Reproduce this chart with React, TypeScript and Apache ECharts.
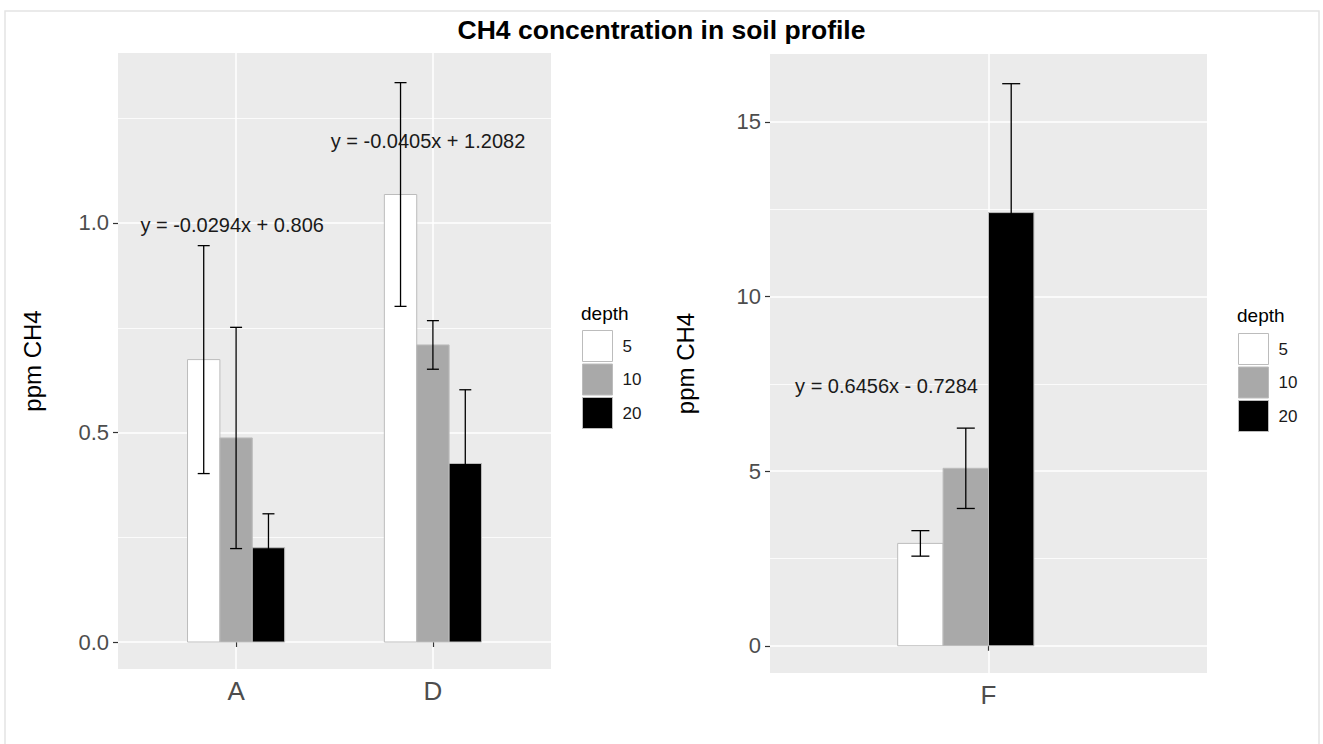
import React, { useEffect, useRef } from 'react';
import * as echarts from 'echarts';

// ---- labels ----
const TITLE = 'CH4 concentration in soil profile';
const Y_NAME = 'ppm CH4';
const LEGEND_TITLE = 'depth';
const DEPTHS = ['5', '10', '20'];
const DEPTH_FILLS = ['#ffffff', '#a9a9a9', '#000000'];

// ---- left panel: sites A and D ----
const LEFT_SITES = ['A', 'D'];
const LEFT_MEAN_5 = [0.674, 1.068];
const LEFT_MEAN_10 = [0.487, 0.709];
const LEFT_MEAN_20 = [0.225, 0.426];
const LEFT_SD_5 = [0.272, 0.267];
const LEFT_SD_10 = [0.264, 0.058];
const LEFT_SD_20 = [0.081, 0.176];
const LEFT_TICKS = [0, 0.5, 1.0];
const LEFT_MINOR = [0.25, 0.75, 1.25];
const LEFT_EQUATIONS = ['y = -0.0294x + 0.806', 'y = -0.0405x + 1.2082'];
const LEFT_EQ_X = [0.98, 1.975];
const LEFT_EQ_Y = [1.0, 1.2];

// ---- right panel: site F ----
const RIGHT_SITES = ['F'];
const RIGHT_MEAN_5 = [2.93];
const RIGHT_MEAN_10 = [5.08];
const RIGHT_MEAN_20 = [12.4];
const RIGHT_SD_5 = [0.365];
const RIGHT_SD_10 = [1.15];
const RIGHT_SD_20 = [3.69];
const RIGHT_TICKS = [0, 5, 10, 15];
const RIGHT_MINOR = [2.5, 7.5, 12.5];
const RIGHT_EQUATIONS = ['y = 0.6456x - 0.7284'];
const RIGHT_EQ_X = [0.72];
const RIGHT_EQ_Y = [7.5];

// ---- styling ----
const FONT = '"Liberation Sans", Arial, Helvetica, sans-serif';
const PANEL_BG = '#ebebeb';
const OUTLINE = '#bcbcbc';
const ERR_COLOR = '#000000';
const TICK_TEXT = '#4d4d4d';

type Panel = {
  sites: string[];
  means: number[][];
  sds: number[][];
  ticks: number[];
  minor: number[];
  decimals: number;
  yMin: number;
  yMax: number;
  barW: number; // bar width in x-axis units
  groupShift: number; // shift of the dodged group, in bar widths
  capPx: number; // error-bar cap width in pixels
  nameGap: number;
  equations: string[];
  eqX: number[];
  eqY: number[];
};

const PANELS: Panel[] = [
  {
    sites: LEFT_SITES,
    means: [LEFT_MEAN_5, LEFT_MEAN_10, LEFT_MEAN_20],
    sds: [LEFT_SD_5, LEFT_SD_10, LEFT_SD_20],
    ticks: LEFT_TICKS,
    minor: LEFT_MINOR,
    decimals: 1,
    yMin: -0.0644,
    yMax: 1.4057,
    barW: 0.1645,
    groupShift: 0,
    capPx: 12,
    nameGap: 74,
    equations: LEFT_EQUATIONS,
    eqX: LEFT_EQ_X,
    eqY: LEFT_EQ_Y,
  },
  {
    sites: RIGHT_SITES,
    means: [RIGHT_MEAN_5, RIGHT_MEAN_10, RIGHT_MEAN_20],
    sds: [RIGHT_SD_5, RIGHT_SD_10, RIGHT_SD_20],
    ticks: RIGHT_TICKS,
    minor: RIGHT_MINOR,
    decimals: 0,
    yMin: -0.78,
    yMax: 16.94,
    barW: 0.1247,
    groupShift: -0.5,
    capPx: 18,
    nameGap: 73,
    equations: RIGHT_EQUATIONS,
    eqX: RIGHT_EQ_X,
    eqY: RIGHT_EQ_Y,
  },
];

const GRIDS = [
  { left: 118, top: 53, width: 433, height: 616 },
  { left: 770, top: 54, width: 437, height: 619 },
];

const LEGENDS = [
  { left: 582, top: 330, titleX: 581, titleY: 313.5 },
  { left: 1238, top: 333, titleX: 1237, titleY: 315 },
];

function buildOption() {
  const grid: any[] = [];
  const xAxis: any[] = [];
  const yAxis: any[] = [];
  const series: any[] = [];
  const legend: any[] = [];
  const graphic: any[] = [
    {
      type: 'rect',
      shape: { x: 5, y: 11, width: 1314, height: 800 },
      style: { fill: 'transparent', stroke: '#e4e4e4', lineWidth: 1.5 },
      silent: true,
    },
    {
      type: 'text',
      x: 661.5,
      y: 30,
      style: {
        text: TITLE,
        fontSize: 26.5,
        fontWeight: 'bold',
        fontFamily: FONT,
        fill: '#000',
        align: 'center',
        verticalAlign: 'middle',
      },
    },
  ];

  PANELS.forEach((p, g) => {
    const positions = p.sites.map((_, i) => i + 1);
    grid.push({
      ...GRIDS[g],
      show: true,
      backgroundColor: PANEL_BG,
      borderWidth: 0,
      containLabel: false,
      outerBoundsMode: 'none',
    });

    xAxis.push({
      type: 'value',
      gridIndex: g,
      min: 0.4,
      max: p.sites.length + 0.6,
      axisLine: { show: false },
      axisTick: {
        show: true,
        length: 5,
        customValues: positions,
        lineStyle: { color: '#333', width: 1.2 },
      },
      axisLabel: {
        customValues: positions,
        formatter: (v: number) => p.sites[Math.round(v) - 1] ?? '',
        fontSize: 26,
        fontFamily: FONT,
        color: TICK_TEXT,
        margin: 9,
      },
      splitLine: { show: true, lineStyle: { color: '#fff', width: 1.5 } },
    });

    const major = yAxis.length;
    yAxis.push({
      type: 'value',
      gridIndex: g,
      min: p.yMin,
      max: p.yMax,
      name: Y_NAME,
      nameLocation: 'middle',
      nameRotate: 90,
      nameGap: p.nameGap,
      nameTextStyle: { fontSize: 24, fontFamily: FONT, color: '#000' },
      axisLine: { show: false },
      axisTick: {
        show: true,
        length: 5,
        customValues: p.ticks,
        lineStyle: { color: '#333', width: 1.2 },
      },
      axisLabel: {
        customValues: p.ticks,
        formatter: (v: number) => Number(v).toFixed(p.decimals),
        fontSize: 22,
        fontFamily: FONT,
        color: TICK_TEXT,
        margin: 9,
      },
      splitLine: { show: true, lineStyle: { color: '#fff', width: 1.5 } },
    });
    yAxis.push({
      type: 'value',
      gridIndex: g,
      min: p.yMin,
      max: p.yMax,
      position: 'left',
      axisLine: { show: false },
      axisTick: { show: false, customValues: p.minor },
      axisLabel: { show: false, customValues: p.minor },
      splitLine: { show: true, lineStyle: { color: '#fff', width: 0.8 } },
    });

    // bars
    DEPTHS.forEach((d, k) => {
      const offset = k - 1 + p.groupShift;
      const fill = DEPTH_FILLS[k];
      series.push({
        type: 'custom',
        name: d,
        xAxisIndex: g,
        yAxisIndex: major,
        z: 2,
        itemStyle: { color: fill, borderColor: OUTLINE, borderWidth: 1 },
        encode: { x: 0, y: 1 },
        data: p.means[k].map((m, i) => [positions[i], m]),
        renderItem: (_params: any, api: any) => {
          const cx = api.value(0) + offset * p.barW;
          const a = api.coord([cx - p.barW / 2, api.value(1)]);
          const b = api.coord([cx + p.barW / 2, 0]);
          return {
            type: 'rect',
            shape: { x: a[0], y: a[1], width: b[0] - a[0], height: b[1] - a[1] },
            style: { fill, stroke: OUTLINE, lineWidth: 1 },
          };
        },
      });
    });

    // error bars (mean ± sd), drawn above every bar
    DEPTHS.forEach((d, k) => {
      const offset = k - 1 + p.groupShift;
      series.push({
        type: 'custom',
        name: 'sd ' + d,
        xAxisIndex: g,
        yAxisIndex: major,
        z: 3,
        encode: { x: 0, y: 1 },
        data: p.means[k].map((m, i) => [positions[i], m, p.sds[k][i]]),
        renderItem: (_params: any, api: any) => {
          const cx = api.value(0) + offset * p.barW;
          const m = api.value(1);
          const s = api.value(2);
          const top = api.coord([cx, m + s]);
          const bot = api.coord([cx, m - s]);
          const h = p.capPx / 2;
          const style = { stroke: ERR_COLOR, lineWidth: 1.3 };
          return {
            type: 'group',
            children: [
              { type: 'line', shape: { x1: top[0], y1: top[1], x2: bot[0], y2: bot[1] }, style },
              { type: 'line', shape: { x1: top[0] - h, y1: top[1], x2: top[0] + h, y2: top[1] }, style },
              { type: 'line', shape: { x1: bot[0] - h, y1: bot[1], x2: bot[0] + h, y2: bot[1] }, style },
            ],
          };
        },
      });
    });

    // regression equations
    series.push({
      type: 'custom',
      name: 'equations ' + g,
      xAxisIndex: g,
      yAxisIndex: major,
      z: 4,
      encode: { x: 0, y: 1 },
      data: p.equations.map((_, i) => [p.eqX[i], p.eqY[i]]),
      renderItem: (params: any, api: any) => {
        const pt = api.coord([api.value(0), api.value(1)]);
        return {
          type: 'text',
          x: pt[0],
          y: pt[1] + 2,
          style: {
            text: p.equations[params.dataIndex],
            fontSize: 20,
            fontFamily: FONT,
            fill: '#1a1a1a',
            align: 'center',
            verticalAlign: 'middle',
          },
        };
      },
    });

    legend.push({
      orient: 'vertical',
      left: LEGENDS[g].left,
      top: LEGENDS[g].top,
      padding: 0,
      itemWidth: 30,
      itemHeight: 31,
      itemGap: 1.5,
      icon: 'rect',
      selectedMode: false,
      data: DEPTHS,
      itemStyle: { borderColor: OUTLINE, borderWidth: 1 },
      textStyle: { fontSize: 17, fontFamily: FONT, color: '#1a1a1a', padding: [0, 0, 0, 5] },
    });

    graphic.push({
      type: 'text',
      x: LEGENDS[g].titleX,
      y: LEGENDS[g].titleY,
      style: {
        text: LEGEND_TITLE,
        fontSize: 19,
        fontFamily: FONT,
        fill: '#000',
        align: 'left',
        verticalAlign: 'middle',
      },
    });
  });

  return {
    animation: false,
    backgroundColor: '#ffffff',
    textStyle: { fontFamily: FONT },
    grid,
    xAxis,
    yAxis,
    legend,
    series,
    graphic,
  };
}

export default function App() {
  const ref = useRef<HTMLDivElement>(null);

  useEffect(() => {
    if (!ref.current) return;
    const chart = echarts.init(ref.current, undefined, { renderer: 'svg' });
    chart.setOption(buildOption() as any);
    return () => chart.dispose();
  }, []);

  return (
    <div
      ref={ref}
      style={{ position: 'absolute', left: 0, top: 0, width: 1323, height: 744 }}
    />
  );
}
